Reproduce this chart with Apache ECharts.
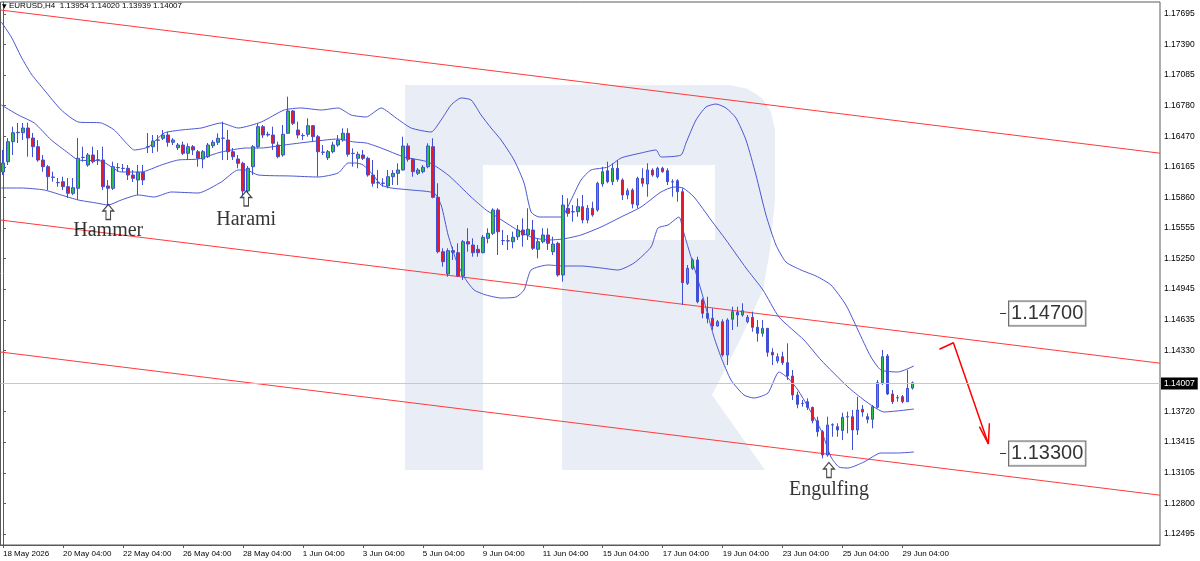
<!DOCTYPE html>
<html><head><meta charset="utf-8">
<script src="https://cdn.jsdelivr.net/npm/echarts@6.0.0/dist/echarts.min.js"></script>
<style>html,body{margin:0;padding:0;background:#fff}#c{width:1200px;height:561px}</style>
</head><body><div id="c"></div>
<script>
// ---------- data ----------
const symbolTitle = 'EURUSD,H4';
const TOTAL_SLOTS = 232;
const xTickLabels = ['18 May 2026','20 May 04:00','22 May 04:00','26 May 04:00','28 May 04:00','1 Jun 04:00','3 Jun 04:00','5 Jun 04:00','9 Jun 04:00','11 Jun 04:00','15 Jun 04:00','17 Jun 04:00','19 Jun 04:00','23 Jun 04:00','25 Jun 04:00','29 Jun 04:00'];
const yTickValues = [1.17695,1.17390,1.17085,1.16780,1.16470,1.16165,1.15860,1.15555,1.15250,1.14945,1.14635,1.14330,1.13720,1.13415,1.13105,1.12800,1.12495];
// [open, close, low, high]
const candles = [
[1.16115,1.16205,1.16085,1.16335],[1.16218,1.16418,1.16185,1.16455],[1.16418,1.16508,1.16285,1.16568],[1.16508,1.16512,1.16405,1.16605],
[1.16508,1.16555,1.16435,1.16605],[1.16555,1.16455,1.16268,1.16608],[1.16455,1.16368,1.16265,1.16505],[1.16368,1.16235,1.16218,1.16435],
[1.16235,1.16168,1.16118,1.16285],[1.16168,1.16068,1.15935,1.16185],[1.16064,1.16062,1.16018,1.16118],[1.16010,1.16008,1.15968,1.16055],
[1.16018,1.15968,1.15935,1.16068],[1.15968,1.15902,1.15855,1.16055],[1.15902,1.15958,1.15885,1.16055],[1.15952,1.16252,1.15835,1.16455],
[1.16260,1.16262,1.16218,1.16368],[1.16185,1.16285,1.16168,1.16305],[1.16285,1.16218,1.16202,1.16368],[1.16237,1.16235,1.16185,1.16335],
[1.16235,1.15968,1.15935,1.16368],[1.15975,1.15952,1.15785,1.16035],[1.15952,1.16168,1.15935,1.16218],[1.16160,1.16158,1.16115,1.16205],
[1.16152,1.16150,1.16115,1.16195],[1.16152,1.16085,1.16035,1.16185],[1.16085,1.16052,1.16015,1.16135],[1.16035,1.16112,1.15885,1.16185],
[1.16112,1.16035,1.15985,1.16185],[1.16366,1.16368,1.16305,1.16505],[1.16368,1.16425,1.16305,1.16485],[1.16433,1.16435,1.16318,1.16485],
[1.16452,1.16485,1.16435,1.16535],[1.16485,1.16412,1.16368,1.16518],[1.16412,1.16435,1.16385,1.16455],[1.16358,1.16385,1.16335,1.16405],
[1.16385,1.16302,1.16285,1.16418],[1.16302,1.16368,1.16235,1.16402],[1.16368,1.16335,1.16285,1.16385],[1.16318,1.16252,1.16168,1.16335],
[1.16245,1.16318,1.16152,1.16335],[1.16268,1.16385,1.16255,1.16405],[1.16378,1.16412,1.16355,1.16435],[1.16412,1.16452,1.16385,1.16502],
[1.16454,1.16452,1.16235,1.16618],[1.16435,1.16318,1.16235,1.16535],[1.16318,1.16268,1.16235,1.16355],[1.16245,1.16202,1.16152,1.16285],
[1.16202,1.15925,1.15868,1.16218],[1.15925,1.16152,1.15905,1.16175],[1.16168,1.16368,1.16085,1.16385],[1.16368,1.16568,1.16352,1.16602],
[1.16568,1.16485,1.16455,1.16585],[1.16485,1.16492,1.16468,1.16518],[1.16485,1.16402,1.16335,1.16568],[1.16385,1.16268,1.16252,1.16418],
[1.16285,1.16492,1.16268,1.16585],[1.16502,1.16725,1.16500,1.16868],[1.16725,1.16602,1.16585,1.16735],[1.16535,1.16485,1.16452,1.16618],
[1.16480,1.16478,1.16435,1.16502],[1.16492,1.16578,1.16468,1.16652],[1.16578,1.16468,1.16418,1.16585],[1.16468,1.16318,1.16068,1.16485],
[1.16314,1.16312,1.16285,1.16385],[1.16258,1.16318,1.16235,1.16335],[1.16318,1.16385,1.16302,1.16418],[1.16385,1.16435,1.16368,1.16485],
[1.16435,1.16502,1.16418,1.16552],[1.16502,1.16292,1.16268,1.16552],[1.16300,1.16302,1.16168,1.16352],[1.16252,1.16292,1.16152,1.16318],
[1.16285,1.16252,1.16235,1.16335],[1.16252,1.16085,1.16068,1.16268],[1.16085,1.16002,1.15968,1.16235],[1.16006,1.16008,1.15952,1.16135],
[1.16004,1.16002,1.15968,1.16052],[1.15975,1.16068,1.15952,1.16135],[1.16068,1.16102,1.15985,1.16135],[1.16102,1.16135,1.15985,1.16202],
[1.16135,1.16375,1.16130,1.16468],[1.16375,1.16242,1.16218,1.16402],[1.16242,1.16118,1.16068,1.16252],[1.16102,1.16135,1.16085,1.16155],
[1.16118,1.16162,1.16102,1.16185],[1.16168,1.16375,1.16152,1.16402],[1.16368,1.15862,1.15852,1.16452],[1.15862,1.15318,1.15302,1.16002],
[1.15318,1.15218,1.15168,1.15352],[1.15095,1.15328,1.15068,1.15352],[1.15328,1.15312,1.15235,1.15368],[1.15308,1.15075,1.15068,1.15402],
[1.15075,1.15418,1.15035,1.15435],[1.15418,1.15395,1.15318,1.15552],[1.15385,1.15308,1.15268,1.15452],[1.15342,1.15308,1.15268,1.15385],
[1.15308,1.15462,1.15302,1.15485],[1.15452,1.15502,1.15402,1.15552],[1.15502,1.15735,1.15485,1.15752],[1.15735,1.15518,1.15285,1.15752],
[1.15430,1.15428,1.15385,1.15535],[1.15427,1.15425,1.15335,1.15485],[1.15418,1.15462,1.15352,1.15518],[1.15468,1.15535,1.15435,1.15585],
[1.15535,1.15485,1.15368,1.15652],[1.15485,1.15542,1.15435,1.15752],[1.15535,1.15352,1.15335,1.15635],[1.15342,1.15418,1.15252,1.15452],
[1.15418,1.15485,1.15402,1.15552],[1.15485,1.15402,1.15335,1.15552],[1.15318,1.15395,1.15285,1.15468],[1.15402,1.15085,1.15068,1.15418],
[1.15085,1.15785,1.15018,1.15885],[1.15752,1.15702,1.15668,1.15852],[1.15716,1.15718,1.15618,1.15785],[1.15718,1.15768,1.15668,1.15852],
[1.15768,1.15635,1.15602,1.15885],[1.15635,1.15752,1.15602,1.15785],[1.15752,1.15685,1.15668,1.15818],[1.15735,1.16002,1.15718,1.16018],
[1.15995,1.16118,1.15968,1.16168],[1.16128,1.16018,1.16002,1.16218],[1.16018,1.16152,1.15985,1.16202],[1.16152,1.16042,1.16018,1.16235],
[1.16035,1.15885,1.15835,1.16052],[1.15885,1.15928,1.15842,1.15952],[1.15935,1.15795,1.15752,1.15952],[1.15785,1.16052,1.15752,1.16068],
[1.16052,1.16002,1.15968,1.16152],[1.15995,1.16135,1.15868,1.16202],[1.16135,1.16085,1.16068,1.16152],[1.16068,1.16152,1.16052,1.16168],
[1.16152,1.16118,1.16108,1.16168],[1.16128,1.16018,1.15985,1.16152],[1.16018,1.16016,1.15868,1.16042],[1.16028,1.15918,1.15818,1.16042],
[1.15918,1.15008,1.14785,1.15952],[1.15002,1.15152,1.14985,1.15185],[1.15152,1.15235,1.15135,1.15252],[1.15235,1.14818,1.14802,1.15268],
[1.14835,1.14702,1.14652,1.14852],[1.14702,1.14652,1.14602,1.14868],[1.14652,1.14575,1.14535,1.14752],[1.14575,1.14618,1.14568,1.14635],
[1.14618,1.14285,1.14268,1.14642],[1.14285,1.14635,1.14185,1.14652],[1.14642,1.14718,1.14535,1.14768],[1.14712,1.14685,1.14568,1.14768],
[1.14685,1.14728,1.14668,1.14802],[1.14618,1.14662,1.14602,1.14685],[1.14662,1.14562,1.14518,1.14718],[1.14562,1.14502,1.14418,1.14635],
[1.14502,1.14552,1.14468,1.14635],[1.14552,1.14312,1.14268,1.14555],[1.14312,1.14285,1.14185,1.14352],[1.14225,1.14268,1.14202,1.14302],
[1.14268,1.14208,1.14185,1.14318],[1.14208,1.14075,1.14035,1.14402],[1.14075,1.13885,1.13835,1.14135],[1.13885,1.13792,1.13752,1.13918],
[1.13800,1.13802,1.13768,1.13835],[1.13818,1.13762,1.13735,1.13852],[1.13762,1.13628,1.13602,1.13768],[1.13628,1.13518,1.13468,1.13668],
[1.13518,1.13285,1.13252,1.13535],[1.13285,1.13585,1.13268,1.13668],[1.13585,1.13587,1.13468,1.13602],[1.13568,1.13535,1.13468,1.13602],
[1.13530,1.13662,1.13435,1.13708],[1.13666,1.13668,1.13502,1.13718],[1.13668,1.13535,1.13335,1.13735],[1.13535,1.13735,1.13485,1.13868],
[1.13742,1.13715,1.13668,1.13785],[1.13668,1.13642,1.13602,1.13702],[1.13642,1.13768,1.13552,1.13785],[1.13762,1.14008,1.13752,1.14035],
[1.14008,1.14268,1.13985,1.14335],[1.14275,1.13895,1.13885,1.14295],[1.13895,1.13818,1.13795,1.13935],[1.13856,1.13858,1.13818,1.13885],
[1.13868,1.13818,1.13802,1.13885],[1.13818,1.13952,1.13815,1.14135],[1.13954,1.14007,1.13939,1.14020]
];
// Bollinger bands: [bar position, price]
const bbUpper = [[-0.34,1.17615],[1.66,1.17465],[3.66,1.17265],[5.66,1.17095],[8.26,1.16935],[11.66,1.16735],[15.06,1.16615],[19.66,1.16605],[22.26,1.16535],[24.66,1.16405],[26.26,1.16335],[29.06,1.16365],[32.26,1.16505],[35.66,1.16535],[39.66,1.16555],[43.66,1.16605],[47.06,1.16555],[51.66,1.16615],[56.26,1.16735],[59.66,1.16755],[63.66,1.16735],[67.06,1.16755],[69.66,1.16685],[72.66,1.16665],[75.66,1.16755],[78.66,1.16655],[81.66,1.16555],[85.66,1.16515],[87.66,1.16635],[89.66,1.16785],[91.66,1.16855],[93.66,1.16835],[95.66,1.16685],[97.66,1.16555],[99.66,1.16435],[102.26,1.16235],[104.26,1.16005],[105.66,1.15715],[107.26,1.15665],[111.66,1.15665],[113.66,1.15835],[115.66,1.16035],[117.66,1.16135],[121.06,1.16165],[123.66,1.16255],[127.66,1.16305],[130.66,1.16335],[131.66,1.16265],[135.66,1.16285],[136.66,1.16405],[138.66,1.16635],[140.66,1.16765],[142.66,1.16795],[144.66,1.16755],[146.66,1.16655],[148.66,1.16435],[150.66,1.16085],[152.66,1.15685],[154.66,1.15385],[156.66,1.15215],[159.66,1.15135],[162.66,1.15075],[165.66,1.14985],[168.66,1.14785],[171.06,1.14535],[173.66,1.14265],[175.66,1.14135],[179.06,1.14115],[182.26,1.14175]];
const bbMiddle = [[-0.34,1.16785],[3.06,1.16685],[6.26,1.16605],[9.66,1.16435],[13.06,1.16305],[15.06,1.16235],[19.66,1.16225],[23.66,1.16115],[27.66,1.16115],[31.66,1.16185],[35.06,1.16235],[39.06,1.16245],[43.66,1.16315],[48.66,1.16355],[51.66,1.16355],[56.26,1.16385],[61.06,1.16415],[67.06,1.16445],[70.26,1.16415],[72.66,1.16405],[75.66,1.16355],[80.26,1.16265],[85.06,1.16215],[89.06,1.16085],[93.66,1.15865],[96.66,1.15735],[98.26,1.15685],[102.26,1.15555],[105.66,1.15465],[109.06,1.15435],[112.06,1.15445],[115.66,1.15485],[119.66,1.15565],[123.66,1.15665],[127.66,1.15765],[131.66,1.15915],[134.26,1.15965],[136.06,1.15955],[138.26,1.15865],[141.66,1.15635],[144.66,1.15435],[148.66,1.15155],[152.06,1.14935],[155.26,1.14665],[160.26,1.14435],[163.66,1.14235],[169.06,1.13965],[172.26,1.13835],[174.26,1.13765],[176.26,1.13715],[182.26,1.13745]];
const bbLower = [[-0.34,1.15955],[3.66,1.15955],[8.26,1.15935],[11.66,1.15885],[15.06,1.15835],[18.66,1.15805],[21.06,1.15785],[23.66,1.15835],[27.06,1.15885],[30.26,1.15865],[33.66,1.15915],[39.06,1.15905],[43.66,1.16015],[47.06,1.16135],[48.66,1.16135],[51.06,1.16085],[57.66,1.16075],[63.06,1.16065],[67.06,1.16105],[69.06,1.16205],[70.66,1.16205],[72.06,1.16185],[74.06,1.16085],[75.66,1.15985],[77.66,1.15955],[81.66,1.15935],[86.26,1.15905],[87.66,1.15785],[89.06,1.15485],[90.66,1.15235],[92.26,1.15065],[94.26,1.14935],[96.66,1.14885],[99.66,1.14855],[102.66,1.14865],[104.26,1.14935],[105.66,1.15135],[109.06,1.15185],[112.06,1.15175],[115.66,1.15175],[119.66,1.15155],[123.06,1.15135],[126.26,1.15205],[129.66,1.15365],[131.06,1.15555],[133.06,1.15585],[135.26,1.15665],[136.06,1.15535],[137.06,1.15365],[139.66,1.14935],[142.26,1.14465],[143.66,1.14265],[145.66,1.14035],[148.26,1.13885],[150.26,1.13855],[153.06,1.13905],[155.26,1.14115],[157.06,1.14055],[159.06,1.13935],[163.66,1.13535],[165.66,1.13265],[167.26,1.13165],[169.06,1.13155],[172.26,1.13215],[175.66,1.13305],[179.06,1.13305],[182.26,1.13315]];
// channel lines [bar position, price]
const channelTop = [[-0.5,1.17735],[231.5,1.16303]];
const channelMid = [[-0.5,1.15635],[231.5,1.14203]];
const channelLow = [[-0.5,1.14315],[231.5,1.12883]];
const currentPrice = 1.14007;
const targetLevels = [1.14700, 1.13300];
const targetAnchorBar = 200.1;
const forecastPath = [[187.36,1.14342],[190.16,1.14408],[197.16,1.13395]];
const forecastHead = [[195.36,1.13568],[197.16,1.13395],[197.36,1.13602]];
const patternNames = ['Hammer','Harami','Engulfing'];
const patternBars = [21.06, 48.66, 165.26];
const patternArrowPrices = [1.15715, 1.15850, 1.13135];
const patternTextPrices = [1.15525, 1.15635, 1.12935];

// ---------- chart ----------
const categories = Array.from({length: TOTAL_SLOTS}, (_, i) => String(i));
const last = candles[candles.length - 1];
const headerText = symbolTitle + '  ' + [last[0], last[3], last[2], last[1]].map(v => v.toFixed(5)).join(' ');
const BLUE = '#4b57d2';
const WICK = '#3f4fd6';
const RED = '#ff3a3a';
const WM = '#e9edf5';
const AX = '#5a5a5a';
const showTick = (i) => i % 12 === 0 && (i / 12) < xTickLabels.length;
const UP_ARROW = 'path://M6,0 L12,7 L8.5,7 L8.5,16 L3.5,16 L3.5,7 L0,7 Z';

function lineSeries(data, color, width, extra) {
  return Object.assign({
    type: 'line', xAxisIndex: 1, yAxisIndex: 0, data: data, symbol: 'none', silent: true,
    lineStyle: {color: color, width: width}, animation: false, z: 3
  }, extra || {});
}

const option = {
  animation: false,
  backgroundColor: '#ffffff',
  textStyle: {fontFamily: 'Liberation Sans'},
  grid: {left: 0, right: 40, top: 2, bottom: 16, show: true, borderColor: AX, borderWidth: 1, backgroundColor: 'transparent'},
  xAxis: [{
    type: 'category', data: categories, boundaryGap: true,
    axisLine: {show: true, lineStyle: {color: AX}},
    axisTick: {show: true, alignWithLabel: true, interval: showTick, length: 3, lineStyle: {color: AX}},
    axisLabel: {interval: showTick, formatter: (v, i) => xTickLabels[i / 12] || '', align: 'left',
      color: '#000', fontSize: 8, margin: 5, fontFamily: 'Liberation Sans'},
    splitLine: {show: false}
  }, {
    type: 'value', min: -0.5, max: TOTAL_SLOTS - 0.5, show: false, gridIndex: 0
  }],
  yAxis: {
    type: 'value', position: 'right', min: 1.12385, max: 1.17815,
    axisLine: {show: true, lineStyle: {color: AX}},
    axisTick: {show: true, customValues: yTickValues, length: 3, lineStyle: {color: AX}},
    axisLabel: {customValues: yTickValues, formatter: v => v.toFixed(5), color: '#000', fontSize: 8.5, margin: 4, fontFamily: 'Liberation Sans'},
    splitLine: {show: false}
  },
  graphic: [
    {type: 'rect', z: 0, silent: true, shape: {x: 405, y: 85, width: 78, height: 385}, style: {fill: WM}},
    {type: 'polygon', z: 0, silent: true, shape: {points: [[483,85],[730,85],[748,89],[762,98],[771,112],[775,130],[775,200],[770,250],[763,290],[740,340],[712,395],[765,470],[562,470],[562,240],[715,240],[715,165],[483,165]]}, style: {fill: WM}},
    {type: 'text', z: 10, x: 2, y: 3, style: {text: '\u25BC', fontSize: 6, fill: '#000', fontFamily: 'DejaVu Sans'}},
    {type: 'text', z: 10, x: 9, y: 2, style: {text: headerText, fontSize: 8, fill: '#000', fontFamily: 'Liberation Sans'}}
  ],
  series: [
    lineSeries(channelTop, RED, 1),
    lineSeries(channelMid, RED, 1),
    lineSeries(channelLow, RED, 1),
    lineSeries(bbUpper, BLUE, 1, {smooth: 0.2}),
    lineSeries(bbMiddle, BLUE, 1, {smooth: 0.2}),
    lineSeries(bbLower, BLUE, 1, {smooth: 0.2}),
    lineSeries(forecastPath, '#ff0000', 1.5),
    lineSeries(forecastHead, '#ff0000', 1.5),
    {
      type: 'candlestick', xAxisIndex: 0, yAxisIndex: 0, data: candles, barWidth: 3, z: 4,
      itemStyle: {color: '#2fbf4f', color0: '#e8192c', borderColor: WICK, borderColor0: WICK, borderWidth: 1},
      markLine: {
        symbol: ['none', 'none'], silent: true, animation: false,
        lineStyle: {color: '#c8c8c8', width: 1, type: 'solid'},
        label: {show: true, position: 'end', formatter: currentPrice.toFixed(5), backgroundColor: '#000', color: '#fff',
          fontSize: 8.5, padding: [2, 3, 1, 3], distance: 1, fontFamily: 'Liberation Sans'},
        emphasis: {disabled: true},
        data: [{yAxis: currentPrice}]
      }
    },
    {
      type: 'scatter', xAxisIndex: 1, yAxisIndex: 0, silent: true, z: 6,
      symbol: UP_ARROW, symbolSize: [11, 15],
      itemStyle: {color: '#ffffff', borderColor: '#1a1a1a', borderWidth: 1.2},
      data: patternBars.map((b, i) => ({value: [b, patternArrowPrices[i]]}))
    },
    {
      type: 'scatter', xAxisIndex: 1, yAxisIndex: 0, silent: true, z: 6, symbolSize: 0.1,
      itemStyle: {color: 'transparent'},
      data: patternBars.map((b, i) => ({value: [b, patternTextPrices[i]], name: patternNames[i]})),
      label: {show: true, position: 'inside', formatter: p => p.name, fontSize: 20, color: '#000', fontFamily: 'Liberation Serif'}
    },
    {
      type: 'scatter', xAxisIndex: 1, yAxisIndex: 0, silent: true, z: 6, symbol: 'rect', symbolSize: [6, 1],
      itemStyle: {color: '#000'},
      data: targetLevels.map(v => ({value: [targetAnchorBar, v]})),
      label: {show: true, position: 'right', distance: 3, formatter: p => p.value[1].toFixed(5),
        fontSize: 20, color: '#000', fontFamily: 'Liberation Sans', backgroundColor: '#fff',
        borderColor: '#3c3c3c', borderWidth: 1, padding: [2, 2, 1, 2], lineHeight: 21}
    }
  ]
};
const chart = echarts.init(document.getElementById('c'));
chart.setOption(option);
</script>
</body></html>
